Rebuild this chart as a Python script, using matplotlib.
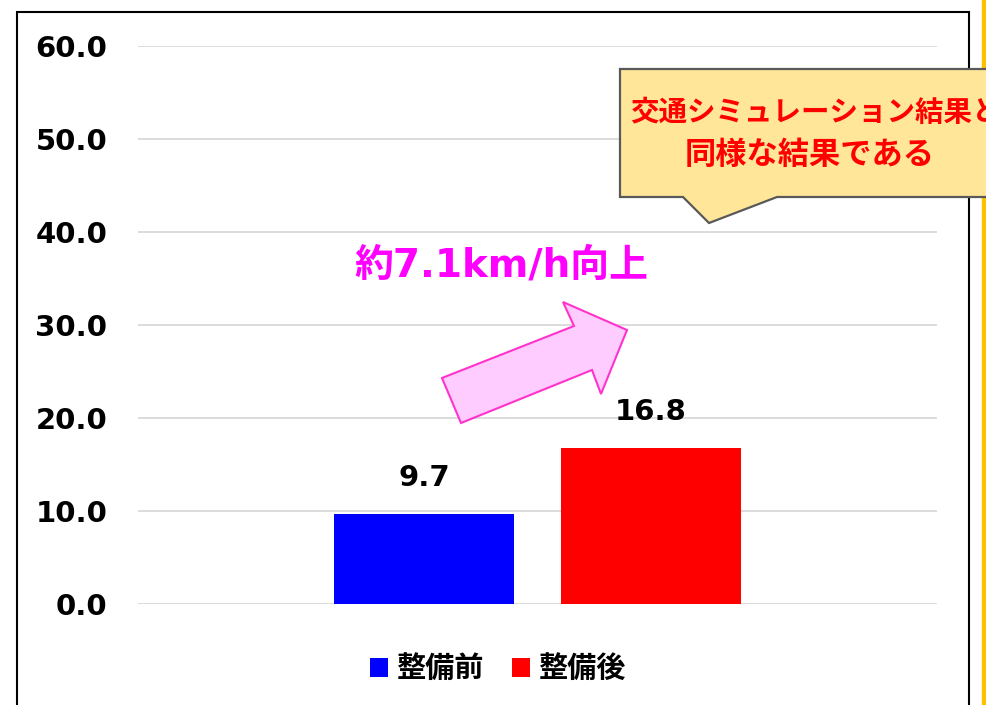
import matplotlib
matplotlib.use('Agg')
import matplotlib.pyplot as plt
from matplotlib.patches import Polygon, Patch
from matplotlib.lines import Line2D

plt.rcParams['font.family'] = ['DejaVu Sans', 'Noto Sans CJK JP']

# ---- data ----
categories = ['']
series_names = ['整備前', '整備後']
series_values = [[9.7], [16.8]]
series_colors = ['#0000FF', '#FF0000']
y_ticks = [0, 10, 20, 30, 40, 50, 60]
annotation_text = '約7.1km/h向上'
callout_lines = ['交通シミュレーション結果と', '同様な結果である']

W, H = 986, 705
fig = plt.figure(figsize=(W / 100, H / 100), dpi=100)


def fx(px):
    return px / W


def fy(py):
    return 1 - py / H


ax = fig.add_axes([fx(138), fy(604), fx(937) - fx(138), fy(46) - fy(604)])
offsets = [-0.142, 0.142]
width = 0.2253
for name, vals, color, off in zip(series_names, series_values, series_colors, offsets):
    xs = [i + off for i in range(len(categories))]
    bars = ax.bar(xs, vals, width, color=color, label=name, zorder=3)
    for b, v in zip(bars, vals):
        ax.annotate(f'{v:.1f}', (b.get_x() + b.get_width() / 2, v), xytext=(0, 26),
                    textcoords='offset points', ha='center', va='center',
                    fontsize=21, fontweight='bold', color='black')

ax.set_xlim(-0.5, 0.5)
ax.set_ylim(0, 60)
ax.set_xticks([])
ax.set_yticks(y_ticks, labels=[f'{t:.1f}' for t in y_ticks], fontsize=21, fontweight='bold')
ax.tick_params(axis='y', length=0, pad=22)
ax.yaxis.grid(True, color='#D9D9D9', lw=1.3)
ax.set_axisbelow(True)
for s in ax.spines.values():
    s.set_visible(False)

handles = [Patch(facecolor=c, edgecolor='none', label=n) for n, c in zip(series_names, series_colors)]
ax.legend(handles=handles, loc='center', bbox_to_anchor=(fx(498), fy(669)),
          bbox_transform=fig.transFigure, ncol=2, frameon=False,
          prop={'family': ['Noto Sans CJK JP'], 'weight': 'bold', 'size': 21},
          handlelength=0.62, handleheight=0.62, handletextpad=0.28,
          columnspacing=0.97, borderpad=0)

# outer frame
fig.add_artist(Line2D([fx(17), fx(17), fx(969), fx(969)], [fy(710), fy(12), fy(12), fy(710)],
                      transform=fig.transFigure, color='black', lw=1.5,
                      solid_joinstyle='miter', zorder=1))
# yellow side line
fig.add_artist(Line2D([fx(984), fx(984)], [0, 1], transform=fig.transFigure,
                      color='#FFC000', lw=3.2, zorder=1))

# arrow
arrow_px = [(442, 378), (574, 326), (563, 302), (627, 330), (601, 394), (592, 370), (461, 423)]
fig.add_artist(Polygon([(fx(x), fy(y)) for x, y in arrow_px], closed=True,
                       transform=fig.transFigure, facecolor='#FFCCFF',
                       edgecolor='#FF33CC', lw=1.5, zorder=5))
fig.text(fx(501), fy(265), annotation_text, color='#FF00FF', fontsize=28,
         fontweight='bold', ha='center', va='center', zorder=6)

# callout
callout_px = [(620, 69), (995, 69), (995, 197), (777, 197), (709, 223), (683, 197), (620, 197)]
fig.add_artist(Polygon([(fx(x), fy(y)) for x, y in callout_px], closed=True,
                       transform=fig.transFigure, facecolor='#FFE699',
                       edgecolor='#595959', lw=1.6, zorder=5))
fig.text(fx(630), fy(113), callout_lines[0], color='#FF0000', fontsize=20.5, fontweight='bold',
         ha='left', va='center', family=['Noto Sans CJK JP'], zorder=6)
fig.text(fx(810), fy(155), callout_lines[1], color='#FF0000', fontsize=22.5, fontweight='bold',
         ha='center', va='center', family=['Noto Sans CJK JP'], zorder=6)

fig.savefig('out.png', dpi=100)
